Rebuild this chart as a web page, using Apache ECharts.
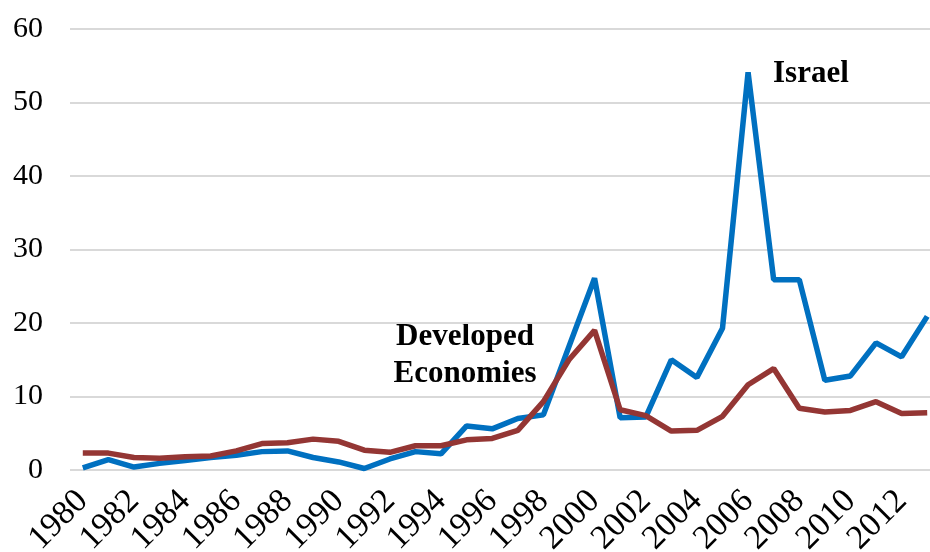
<!DOCTYPE html>
<html>
<head>
<meta charset="utf-8">
<script src="https://cdn.jsdelivr.net/npm/echarts@6/dist/echarts.min.js"></script>
<style>
  html, body { margin: 0; padding: 0; background: #fff; }
  #chart { width: 930px; height: 552px; }
</style>
</head>
<body>
<div id="chart"></div>
<script>
  var years = [];
  for (var y = 1980; y <= 2013; y++) years.push(String(y));

  var israel = [0.3, 1.4, 0.4, 0.9, 1.3, 1.7, 2.0, 2.5, 2.6, 1.7,
    1.1, 0.2, 1.5, 2.5, 2.2, 6.0, 5.6, 7.0, 7.5, 16.8,
    26.1, 7.1, 7.2, 15.0, 12.6, 19.3, 54.1, 25.9, 25.9, 12.2,
    12.8, 17.3, 15.4, 20.9];

  var developed = [2.3, 2.3, 1.7, 1.6, 1.8, 1.9, 2.6, 3.6, 3.7, 4.2,
    3.9, 2.7, 2.4, 3.3, 3.3, 4.1, 4.3, 5.4, 9.3, 15.0,
    19.0, 8.2, 7.4, 5.3, 5.4, 7.3, 11.6, 13.8, 8.4, 7.9,
    8.1, 9.3, 7.7, 7.8];

  var yTicks = { min: 0, max: 60, interval: 10 };

  var myChart = echarts.init(document.getElementById('chart'));

  var font = '"Liberation Serif", "Times New Roman", serif';

  myChart.setOption({
    animation: false,
    grid: {
      left: 70,
      right: -10,
      top: 29,
      bottom: 82,
      containLabel: false,
      outerBoundsMode: 'none'
    },
    xAxis: {
      type: 'category',
      data: years,
      boundaryGap: true,
      axisLine: { show: false },
      axisTick: { show: false },
      axisLabel: {
        interval: 1,
        rotate: 45,
        margin: 26,
        color: '#000',
        fontFamily: font,
        fontSize: 34
      }
    },
    yAxis: {
      type: 'value',
      min: yTicks.min,
      max: yTicks.max,
      interval: yTicks.interval,
      axisLine: { show: false },
      axisTick: { show: false },
      axisLabel: {
        margin: 27,
        color: '#000',
        fontFamily: font,
        fontSize: 30
      },
      splitLine: { lineStyle: { color: '#d9d9d9', width: 2 } }
    },
    series: [
      {
        name: 'Israel',
        type: 'line',
        data: israel,
        symbol: 'none',
        lineStyle: { color: '#0070c0', width: 5.5 },
        itemStyle: { color: '#0070c0' }
      },
      {
        name: 'Developed Economies',
        type: 'line',
        data: developed,
        symbol: 'none',
        lineStyle: { color: '#943634', width: 5.5 },
        itemStyle: { color: '#943634' }
      }
    ],
    graphic: [
      {
        type: 'text',
        left: 773,
        top: 58,
        style: {
          text: 'Israel',
          fill: '#000',
          font: 'bold 31px ' + font
        }
      },
      {
        type: 'text',
        x: 465,
        y: 318,
        style: {
          text: 'Developed\nEconomies',
          fill: '#000',
          align: 'center',
          lineHeight: 37,
          font: 'bold 31px ' + font
        }
      }
    ]
  });
  window.onresize = () => myChart.resize()
</script>
</body>
</html>
